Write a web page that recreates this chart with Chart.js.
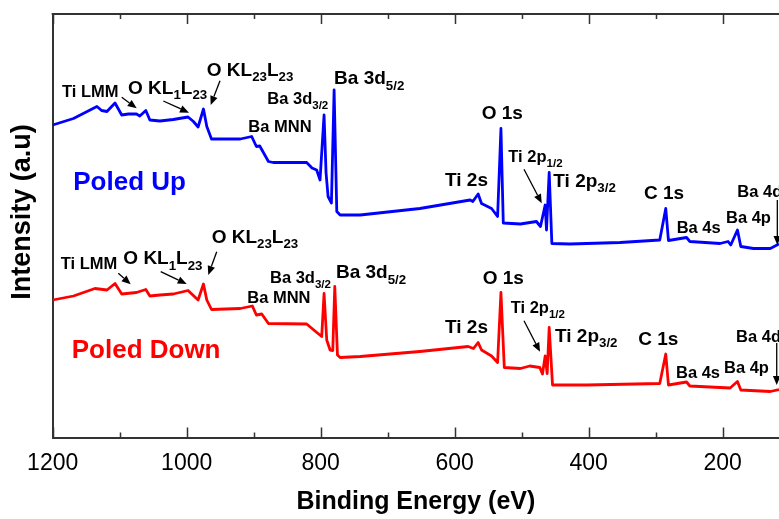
<!DOCTYPE html>
<html>
<head>
<meta charset="utf-8">
<title>XPS survey - poled up / poled down</title>
<script src="https://cdn.jsdelivr.net/npm/chart.js@4.4.1/dist/chart.umd.min.js"></script>
<style>
  html, body { margin: 0; padding: 0; background: #fff; }
  #xps { display: block; }
</style>
</head>
<body>
<canvas id="xps" width="779" height="519"></canvas>
<script>
// binding energy (eV) and intensity (a.u.)
const upEnergy = [1200, 1169, 1134, 1127, 1119, 1107, 1097, 1087, 1075, 1070, 1061, 1055, 1040, 1020, 998, 990, 983, 975, 970, 963,
    950, 920, 903, 896, 891, 878, 871, 821, 813, 806, 801, 795, 792, 789, 784, 780, 776, 771, 741, 700,
    652, 577, 573, 565, 560, 545, 536, 531, 527.5, 502, 478, 472, 465, 463, 459, 455, 428, 353, 294, 285,
    281, 254, 249, 204, 192, 188, 178, 173, 154, 129, 116];
const upIntensity = [312.5, 319, 331, 327, 326, 334.5, 322.5, 323.5, 323.5, 321.5, 327, 317.5, 316.5, 318, 320.5, 316, 310.5, 328.5, 311, 298.5,
    298.5, 298.5, 301, 291, 291.5, 276, 275, 275, 269.5, 267.5, 257.5, 322.5, 264.5, 241, 234.5, 347.5, 226, 222.5, 222.5, 225.5,
    229, 237.5, 236, 243.5, 234, 229, 221, 309, 214.5, 213.5, 216, 211, 232.5, 207.5, 265, 194, 193.5, 195, 197.5, 229,
    197, 200, 196, 194, 196, 192.5, 207.5, 191, 189, 189, 193.5];

const downEnergy = [1200, 1169, 1137, 1119, 1107, 1097, 1075, 1061, 1055, 1040, 1020, 998, 983, 975, 970, 963, 920, 902, 896, 888,
    878, 821, 804, 798.5, 795, 791, 786, 782, 779, 775, 771, 741, 652, 580, 572, 565, 560, 545, 536, 531,
    526, 502, 488, 473, 469, 465, 462, 459, 454, 403, 294, 285, 281, 254, 249, 204, 189, 178, 173, 129, 116];
const downIntensity = [137.5, 141.5, 149, 147.5, 154, 143.5, 145, 148, 141.5, 142.5, 143.5, 147, 137.5, 153.5, 137.5, 128, 129, 131.5, 122.5, 123.5,
    114, 113.5, 104, 101, 144, 97.5, 87.5, 87, 151, 82.5, 80, 81, 86, 91, 89, 95, 87.5, 81.5, 75, 145,
    70, 69, 71.5, 70, 63.5, 81.5, 64, 110, 52.5, 52.5, 54, 83.5, 52.5, 55.5, 51.5, 50, 49.5, 56, 47.5, 46, 48];

const xTickValues = [1200, 1000, 800, 600, 400, 200];
const xMinorValues = [1100, 900, 700, 500, 300];

// peak labels: text (_{..} = subscript), energy and intensity where the text starts, font size
const upLabels = [
    ['Ti LMM', 1186, 341, 16.5],
    ['O KL_{1}L_{23}', 1087.6, 344, 19],
    ['O KL_{23}L_{23}', 970, 362, 19],
    ['Ba 3d_{3/2}', 879.7, 333.5, 16.5],
    ['Ba 3d_{5/2}', 780, 353.5, 19],
    ['Ba MNN', 908, 305.8, 16.5],
    ['Ti 2s', 614.5, 251.5, 19],
    ['O 1s', 559.7, 318.5, 19],
    ['Ti 2p_{1/2}', 520, 275.8, 16.5],
    ['Ti 2p_{3/2}', 452.8, 250.8, 19],
    ['C 1s', 317.5, 238.2, 19],
    ['Ba 4s', 268.7, 204.2, 16.5],
    ['Ba 4p', 195.1, 214.2, 16.5],
    ['Ba 4d', 178.2, 240.8, 16.5]
];
const downLabels = [
    ['Ti LMM', 1188, 168.2, 16.5],
    ['O KL_{1}L_{23}', 1094.6, 173.2, 19],
    ['O KL_{23}L_{23}', 962.7, 194.8, 19],
    ['Ba 3d_{3/2}', 875.7, 154.8, 16.5],
    ['Ba 3d_{5/2}', 777.2, 159.2, 19],
    ['Ba MNN', 909.6, 134.2, 16.5],
    ['O 1s', 558.2, 153.2, 19],
    ['Ti 2s', 614.5, 104.2, 19],
    ['Ti 2p_{1/2}', 516.4, 124.2, 16.5],
    ['Ti 2p_{3/2}', 450.3, 95.8, 19],
    ['C 1s', 326, 92.5, 19],
    ['Ba 4s', 269.7, 59.2, 16.5],
    ['Ba 4p', 198.1, 64.2, 16.5],
    ['Ba 4d', 180.1, 95.8, 16.5]
];
// arrows: from (energy, intensity) to (energy, intensity)
const upArrows = [
    [1097, 340.2, 1074.6, 329.2],
    [1034.9, 336.5, 996.6, 324.8],
    [950.3, 356.8, 964.2, 332.5],
    [496.6, 268.2, 470.1, 234.2],
    [118.5, 237.5, 118.5, 192.5]
];
const downArrows = [
    [1102.1, 164.2, 1083.6, 153.2],
    [1038.8, 165.8, 1000, 153.5],
    [955.2, 185.8, 967.8, 162.5],
    [496.6, 116.8, 472.7, 85.8],
    [119.4, 94.5, 119.4, 52.5]
];
const seriesNames = ['Poled Up', 'Poled Down'];
const seriesColors = ['#0000ff', '#ff0000'];
const seriesNamePos = [[1169.3, 247.5], [1171.6, 79.2]];

const FONT = '"Liberation Sans", Arial, sans-serif';
const AXIS = '#333333';

function toPoints(xs, ys) {
    return xs.map((x, i) => ({ x: x, y: ys[i] }));
}

// draws "Ba 3d_{5/2}" style text, subscripts smaller and lowered
function drawRich(ctx, str, x, y, size) {
    const parts = str.split(/_\{([^}]*)\}/);
    let cx = x;
    parts.forEach((t, i) => {
        if (!t) return;
        const sub = i % 2 === 1;
        const s = sub ? size * 0.7 : size;
        ctx.font = `bold ${s}px ${FONT}`;
        ctx.fillText(t, cx, sub ? y + size * 0.3 : y);
        cx += ctx.measureText(t).width;
    });
}

function drawArrow(ctx, x1, y1, x2, y2) {
    const ang = Math.atan2(y2 - y1, x2 - x1);
    const head = 9, half = 3.8;
    const bx = x2 - head * Math.cos(ang), by = y2 - head * Math.sin(ang);
    ctx.beginPath();
    ctx.moveTo(x1, y1);
    ctx.lineTo(bx, by);
    ctx.stroke();
    ctx.beginPath();
    ctx.moveTo(x2, y2);
    ctx.lineTo(bx + half * Math.sin(ang), by - half * Math.cos(ang));
    ctx.lineTo(bx - half * Math.sin(ang), by + half * Math.cos(ang));
    ctx.closePath();
    ctx.fill();
}

const framePlugin = {
    id: 'frame',
    afterDraw(chart) {
        const { ctx, chartArea: a, scales: { x, y } } = chart;
        ctx.save();
        // top frame line
        ctx.strokeStyle = AXIS;
        ctx.lineWidth = 2;
        ctx.beginPath();
        ctx.moveTo(a.left - 1, a.top);
        ctx.lineTo(a.right, a.top);
        ctx.stroke();
        // inward ticks, bottom and top
        ctx.lineWidth = 1.5;
        const tick = (v, len) => {
            const px = Math.round(x.getPixelForValue(v)) + 0.5;
            ctx.beginPath();
            ctx.moveTo(px, a.bottom);
            ctx.lineTo(px, a.bottom - len);
            ctx.moveTo(px, a.top);
            ctx.lineTo(px, a.top + len);
            ctx.stroke();
        };
        xTickValues.forEach(v => tick(v, 10));
        xMinorValues.forEach(v => tick(v, 5));

        // y title
        ctx.fillStyle = '#000';
        ctx.save();
        ctx.translate(22.5, 212);
        ctx.rotate(-Math.PI / 2);
        ctx.textAlign = 'center';
        ctx.textBaseline = 'middle';
        ctx.font = `bold 27px ${FONT}`;
        ctx.fillText('Intensity (a.u)', 0, 0);
        ctx.restore();

        // peak labels and arrows
        ctx.textAlign = 'left';
        ctx.textBaseline = 'alphabetic';
        [upLabels, downLabels].forEach(list => list.forEach(l => {
            drawRich(ctx, l[0], x.getPixelForValue(l[1]), y.getPixelForValue(l[2]), l[3]);
        }));
        ctx.strokeStyle = '#000';
        ctx.lineWidth = 1.3;
        [upArrows, downArrows].forEach(list => list.forEach(r => {
            drawArrow(ctx, x.getPixelForValue(r[0]), y.getPixelForValue(r[1]),
                x.getPixelForValue(r[2]), y.getPixelForValue(r[3]));
        }));

        // series names
        seriesNames.forEach((n, i) => {
            ctx.fillStyle = seriesColors[i];
            ctx.font = `bold 26px ${FONT}`;
            ctx.fillText(n, x.getPixelForValue(seriesNamePos[i][0]), y.getPixelForValue(seriesNamePos[i][1]));
        });
        ctx.restore();
    }
};

new Chart(document.getElementById('xps'), {
    type: 'line',
    data: {
        datasets: [
            { label: seriesNames[0], data: toPoints(upEnergy, upIntensity), borderColor: seriesColors[0], borderWidth: 2.8, pointRadius: 0, tension: 0, borderJoinStyle: 'round' },
            { label: seriesNames[1], data: toPoints(downEnergy, downIntensity), borderColor: seriesColors[1], borderWidth: 2.8, pointRadius: 0, tension: 0, borderJoinStyle: 'round' }
        ]
    },
    options: {
        responsive: false,
        animation: false,
        devicePixelRatio: 1,
        layout: { padding: { top: 14, right: 0, left: 0, bottom: 0 } },
        plugins: { legend: { display: false }, tooltip: { enabled: false } },
        scales: {
            x: {
                type: 'linear',
                reverse: true,
                min: 116,
                max: 1200,
                afterBuildTicks: s => { s.ticks = xTickValues.map(v => ({ value: v })); },
                afterFit: s => { s.height = 81.5; },
                grid: { display: false },
                border: { display: true, color: AXIS, width: 2 },
                ticks: { color: '#000', padding: 4, maxRotation: 0, autoSkip: false, font: { family: FONT, size: 23 }, callback: v => String(v) },
                title: { display: true, text: 'Binding Energy (eV)', color: '#000', font: { family: FONT, size: 25, weight: 'bold' }, padding: { top: 0, bottom: 2 } }
            },
            y: {
                min: 0,
                max: 423.5,
                afterFit: s => { s.width = 52.7; },
                ticks: { display: false },
                grid: { display: false },
                border: { display: true, color: AXIS, width: 2 }
            }
        }
    },
    plugins: [framePlugin]
});
</script>
</body>
</html>
